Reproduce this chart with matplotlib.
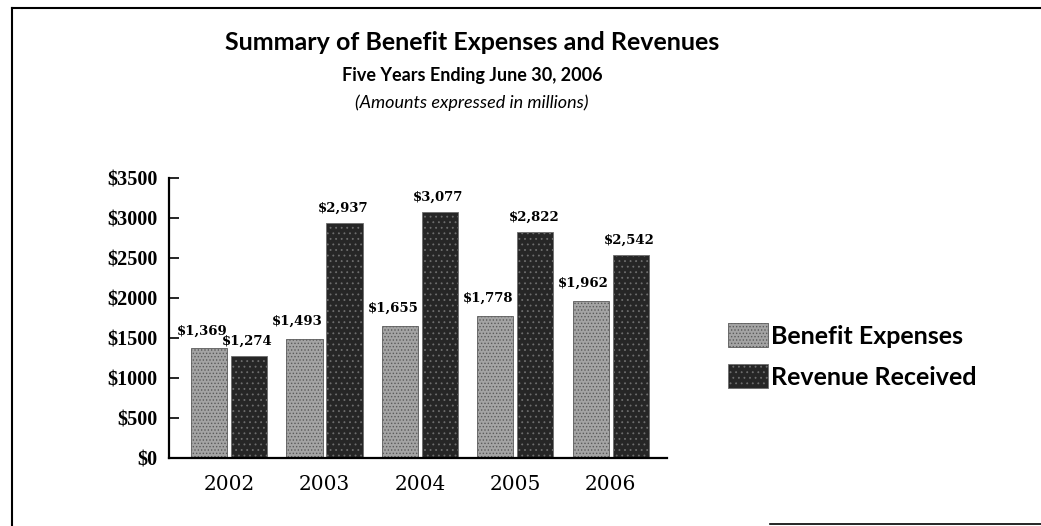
import matplotlib
matplotlib.use('Agg')
import matplotlib.pyplot as plt
import numpy as np
from matplotlib.lines import Line2D

# values in millions of dollars
years = ['2002', '2003', '2004', '2005', '2006']
benefit_expenses = [1369, 1493, 1655, 1778, 1962]
revenue_received = [1274, 2937, 3077, 2822, 2542]
benefit_labels = ['$1,369', '$1,493', '$1,655', '$1,778', '$1,962']
revenue_labels = ['$1,274', '$2,937', '$3,077', '$2,822', '$2,542']
yticks = [0, 500, 1000, 1500, 2000, 2500, 3000, 3500]

W, H = 1041, 526
fig = plt.figure(figsize=(W / 100, H / 100), dpi=100)
ax = fig.add_axes([169 / W, 1 - 458 / H, (667 - 169) / W, (458 - 178) / H])

plt.rcParams['hatch.linewidth'] = 0.6
x = np.arange(len(years))
bw = 0.38
gap = 0.02
b1 = ax.bar(x - bw / 2 - gap, benefit_expenses, bw, color='#a4a4a4',
            edgecolor='#5a5a5a', hatch='.....', linewidth=0.6, label='Benefit Expenses')
b2 = ax.bar(x + bw / 2 + gap, revenue_received, bw, color='#262626',
            edgecolor='#6e6e6e', hatch='...', linewidth=0.6, label='Revenue Received')

serif = 'DejaVu Serif'
for rect, lab in zip(b1, benefit_labels):
    ax.annotate(lab, (rect.get_x() + rect.get_width() / 2, rect.get_height()),
                xytext=(-5, 8), textcoords='offset points', ha='center', va='bottom',
                fontsize=9.5, family=serif, fontweight='bold')
for rect, lab in zip(b2, revenue_labels):
    ax.annotate(lab, (rect.get_x() + rect.get_width() / 2, rect.get_height()),
                xytext=(-1, 6), textcoords='offset points', ha='center', va='bottom',
                fontsize=9.5, family=serif, fontweight='bold')

ax.set_xlim(-0.63, 4.59)
ax.set_ylim(0, 3500)
ax.set_yticks(yticks)
ax.set_yticklabels(['$%d' % v for v in yticks], family='Liberation Serif', fontsize=14.5, fontweight='bold')
ax.set_xticks(x)
ax.set_xticklabels(years, family=serif, fontsize=14.5)
ax.tick_params(axis='y', direction='in', length=7, width=1.2, pad=8)
ax.tick_params(axis='x', length=0, pad=12)
ax.spines['top'].set_visible(False)
ax.spines['right'].set_visible(False)
ax.spines['left'].set_linewidth(1.6)
ax.spines['bottom'].set_linewidth(1.6)

# titles
sans = 'Lato'
fig.text(472 / W, 1 - 42 / H, 'Summary of Benefit Expenses and Revenues', ha='center', va='center',
         fontsize=18, family=sans, fontweight='bold')
fig.text(472 / W, 1 - 75 / H, 'Five Years Ending June 30, 2006', ha='center', va='center',
         fontsize=13, family=sans, fontweight='bold')
fig.text(472 / W, 1 - 103 / H, '(Amounts expressed in millions)', ha='center', va='center',
         fontsize=13, family=sans, style='italic')

fig.legend(handles=[b1, b2], labels=['Benefit Expenses', 'Revenue Received'],
           loc='center left', bbox_to_anchor=(705 / W, 1 - 356 / H), frameon=False,
           prop={'family': sans, 'size': 18, 'weight': 'bold'},
           handlelength=1.6, handleheight=1.1, handletextpad=0.15, labelspacing=0.65)

# outer frame
fig.add_artist(Line2D([12 / W, 12 / W], [0, 1 - 8 / H], transform=fig.transFigure, color='black', lw=1.5))
fig.add_artist(Line2D([12 / W, 1], [1 - 8 / H, 1 - 8 / H], transform=fig.transFigure, color='black', lw=1.5))
fig.add_artist(Line2D([770 / W, 1], [1 - 524 / H, 1 - 524 / H], transform=fig.transFigure, color='black', lw=1.2))

plt.savefig('out.png', dpi=100)
